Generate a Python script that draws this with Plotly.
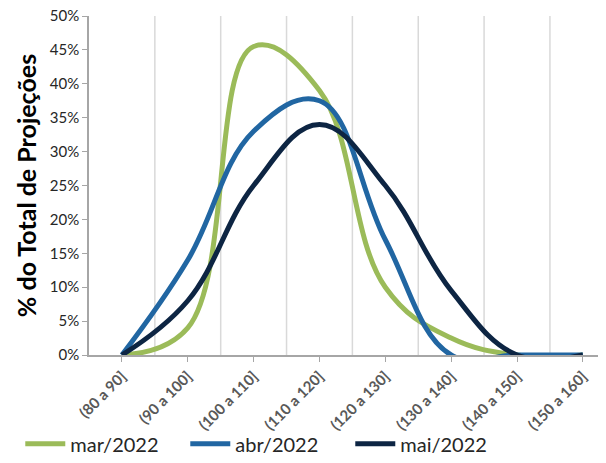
import plotly.graph_objects as go

categories = ["(80 a 90]", "(90 a 100]", "(100 a 110]", "(110 a 120]",
              "(120 a 130]", "(130 a 140]", "(140 a 150]", "(150 a 160]"]
mar_2022 = [0, 4, 45.5, 39, 10, 2.5, 0, 0]
abr_2022 = [0, 14, 33, 37.5, 17, 0, 0, 0]
mai_2022 = [0, 8, 25, 34, 25, 9.5, 0, 0]
y_ticks = [0, 5, 10, 15, 20, 25, 30, 35, 40, 45, 50]
y_ticktext = [f"{v}%" for v in y_ticks]

series = [("mar/2022", mar_2022, "#9BBB59"),
          ("abr/2022", abr_2022, "#2166A2"),
          ("mai/2022", mai_2022, "#0D2543")]

xpos = list(range(len(categories)))
fig = go.Figure()
for name, vals, col in series:
    fig.add_trace(go.Scatter(x=xpos, y=vals, name=name, mode="lines",
                             line=dict(color=col, width=5, shape="spline", smoothing=1.15)))

for i in range(len(categories) - 1):
    fig.add_vline(x=i + 0.5, line=dict(color="#D9D9D9", width=1.5), layer="below")

fig.update_layout(
    width=606, height=463,
    margin=dict(l=89, r=8, t=16, b=108, autoexpand=False),
    paper_bgcolor="white", plot_bgcolor="white",
    font=dict(family="Lato, 'Open Sans', sans-serif", color="#262626"),
    showlegend=True,
    legend=dict(orientation="h", x=-0.135, xanchor="left", y=-0.262, yanchor="middle",
                bgcolor="rgba(0,0,0,0)",
                font=dict(size=20, color="#262626"), itemwidth=40,
                entrywidth=110, entrywidthmode="pixels"),
    xaxis=dict(range=[-0.5, 7.23], tickvals=xpos, ticktext=categories, automargin=False,
               tickangle=-45, tickfont=dict(size=15, color="#595959", weight="bold"),
               showgrid=False, zeroline=False, showline=True, linecolor="#A6A6A6",
               linewidth=1.5, ticks="outside", ticklen=5, tickcolor="#A6A6A6"),
    yaxis=dict(range=[0, 50], tickvals=y_ticks, ticktext=y_ticktext, automargin=False,
               tickfont=dict(size=15, color="#262626"),
               showgrid=False, zeroline=False, showline=True, linecolor="#A6A6A6",
               linewidth=1.5, ticks="outside", ticklen=5, tickcolor="#A6A6A6",
               title=dict(text="<b>% do Total de Projeções</b>",
                          font=dict(size=25, color="#000000"), standoff=6)),
)

fig.write_html("out.html", config={"displayModeBar": False},
               post_script="document.body.style.margin='0';"
                           "document.documentElement.style.overflow='hidden';")
